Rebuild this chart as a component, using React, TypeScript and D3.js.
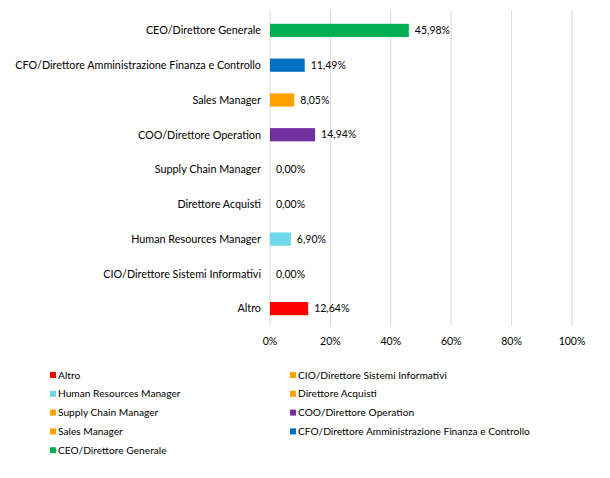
import React, { useEffect, useRef } from 'react';
import * as d3 from 'd3';

const categories = [
  'CEO/Direttore Generale',
  'CFO/Direttore Amministrazione Finanza e Controllo',
  'Sales Manager',
  'COO/Direttore Operation',
  'Supply Chain Manager',
  'Direttore Acquisti',
  'Human Resources Manager',
  'CIO/Direttore Sistemi Informativi',
  'Altro',
];
const values = [45.98, 11.49, 8.05, 14.94, 0, 0, 6.9, 0, 12.64];
const colors = ['#00B050', '#0070C0', '#FFA000', '#7030A0', '#FFA000', '#FFA000', '#6DD8EC', '#FFA000', '#FF0000'];
const xTicks = [0, 20, 40, 60, 80, 100];

// legend order (two columns, filled row by row)
const legendOrder = [
  'Altro',
  'CIO/Direttore Sistemi Informativi',
  'Human Resources Manager',
  'Direttore Acquisti',
  'Supply Chain Manager',
  'COO/Direttore Operation',
  'Sales Manager',
  'CFO/Direttore Amministrazione Finanza e Controllo',
  'CEO/Direttore Generale',
];

const FONT = 'Lato, "Open Sans", sans-serif';

export default function App() {
  const svgRef = useRef<SVGSVGElement>(null);

  useEffect(() => {
    if (!svgRef.current) return;
    const svg = d3.select(svgRef.current);
    svg.selectAll('*').remove();

    const left = 270;
    const right = 572;
    const top = 13;
    const bottom = 326;

    const x = d3.scaleLinear().domain([0, 100]).range([left, right]);
    const y = d3.scaleBand().domain(categories).range([top, bottom]).paddingInner(0.62).paddingOuter(0.31);

    // gridlines
    svg.append('g')
      .selectAll('line')
      .data(xTicks)
      .enter()
      .append('line')
      .attr('x1', d => x(d))
      .attr('x2', d => x(d))
      .attr('y1', 10)
      .attr('y2', bottom)
      .attr('stroke', '#d9d9d9')
      .attr('stroke-width', 1);

    // tick labels
    svg.append('g')
      .selectAll('text')
      .data(xTicks)
      .enter()
      .append('text')
      .attr('x', d => x(d))
      .attr('y', 345)
      .attr('text-anchor', 'middle')
      .style('font-family', FONT)
      .style('font-size', '10.5px')
      .style('fill', '#000')
      .text(d => `${d}%`);

    // bars
    svg.append('g')
      .selectAll('rect')
      .data(categories)
      .enter()
      .append('rect')
      .attr('x', x(0))
      .attr('y', d => y(d)!)
      .attr('width', (d, i) => x(values[i]) - x(0))
      .attr('height', y.bandwidth())
      .attr('fill', (d, i) => colors[i]);

    // category labels
    svg.append('g')
      .selectAll('text')
      .data(categories)
      .enter()
      .append('text')
      .attr('x', left - 9)
      .attr('y', d => y(d)! + y.bandwidth() / 2)
      .attr('dy', '0.35em')
      .attr('text-anchor', 'end')
      .style('font-family', FONT)
      .style('font-size', '10.8px')
      .style('fill', '#000')
      .text(d => d);

    // value labels
    svg.append('g')
      .selectAll('text')
      .data(categories)
      .enter()
      .append('text')
      .attr('x', (d, i) => x(values[i]) + 6)
      .attr('y', d => y(d)! + y.bandwidth() / 2)
      .attr('dy', '0.35em')
      .style('font-family', FONT)
      .style('font-size', '10.5px')
      .style('fill', '#000')
      .text((d, i) => values[i].toFixed(2).replace('.', ',') + '%');

    // legend
    const legend = svg.append('g');
    legendOrder.forEach((name, i) => {
      const col = i % 2;
      const row = Math.floor(i / 2);
      const lx = col === 0 ? 50 : 290;
      const ly = 375 + row * 18.8;
      const g = legend.append('g').attr('transform', `translate(${lx},${ly})`);
      g.append('rect')
        .attr('x', 0)
        .attr('y', -3)
        .attr('width', 6)
        .attr('height', 6)
        .attr('fill', colors[categories.indexOf(name)]);
      g.append('text')
        .attr('x', 8)
        .attr('y', 0)
        .attr('dy', '0.35em')
        .style('font-family', FONT)
        .style('font-size', '10.2px')
        .style('fill', '#000')
        .text(name);
    });
  }, []);

  return (
    <svg
      ref={svgRef}
      width={610}
      height={478}
      style={{ position: 'absolute', left: 0, top: 0, background: '#fff' }}
    />
  );
}
